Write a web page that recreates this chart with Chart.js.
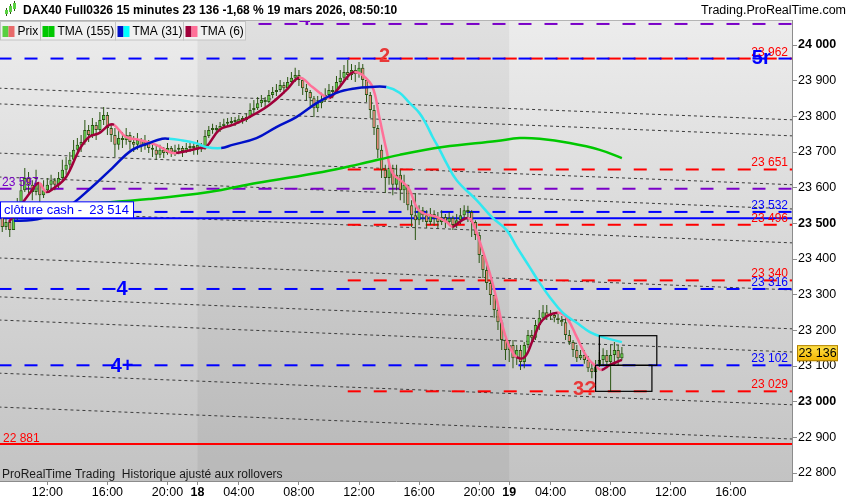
<!DOCTYPE html>
<html>
<head>
<meta charset="utf-8">
<script src="https://cdn.jsdelivr.net/npm/chart.js@4.4.1/dist/chart.umd.min.js"></script>
<style>
  html, body { margin: 0; padding: 0; background: #fff; }
  canvas { display: block; }
</style>
</head>
<body>
<canvas id="chart" width="850" height="500"></canvas>
<script>
// DAX40 15 min bars, index 0 = 17 mars 09:00 (sessions 01:15 - 22:00)
const opens = [23523,23490,23504,23481,23515,23551,23593,23627,23608,23588,23613,23579,23593,23608,23621,23608,23627,23650,23664,23678,
  23706,23720,23728,23762,23748,23776,23762,23790,23804,23767,23748,23720,23739,23734,23748,23728,23720,23734,23717,23728,
  23711,23706,23692,23706,23697,23711,23700,23706,23711,23703,23711,23717,23706,23720,23711,23745,23762,23767,23762,23773,
  23779,23781,23787,23784,23793,23790,23798,23818,23823,23837,23846,23840,23860,23868,23874,23888,23879,23896,23908,23916,
  23902,23879,23868,23851,23823,23837,23846,23860,23874,23868,23896,23908,23924,23916,23930,23919,23936,23902,23860,23818,
  23767,23706,23650,23627,23655,23608,23636,23593,23608,23551,23523,23509,23537,23523,23504,23526,23515,23504,23518,23504,
  23515,23495,23509,23523,23537,23532,23504,23467,23411,23369,23333,23299,23257,23223,23173,23145,23159,23122,23145,23111,
  23159,23187,23179,23215,23235,23251,23240,23243,23235,23229,23223,23187,23167,23145,23122,23131,23117,23094,23083,23100,
  23117,23131,23111,23131,23145,23122];
const highs = [23537,23523,23509,23532,23571,23621,23655,23644,23621,23650,23613,23621,23627,23636,23627,23644,23678,23686,23700,23734,
  23739,23748,23790,23776,23795,23784,23812,23826,23812,23776,23767,23762,23756,23767,23756,23745,23753,23739,23748,23734,
  23725,23720,23720,23714,23725,23717,23720,23722,23717,23725,23728,23725,23734,23725,23762,23773,23779,23776,23784,23793,
  23795,23798,23798,23804,23801,23809,23837,23846,23854,23860,23854,23874,23882,23891,23902,23896,23910,23924,23936,23930,
  23908,23891,23874,23857,23857,23866,23879,23891,23885,23913,23930,23944,23958,23947,23944,23952,23947,23908,23868,23832,
  23776,23720,23664,23672,23664,23664,23650,23636,23608,23565,23585,23551,23546,23537,23543,23537,23532,23537,23526,23532,
  23521,23526,23543,23551,23549,23537,23509,23476,23411,23383,23341,23299,23271,23229,23187,23173,23173,23159,23159,23167,
  23201,23201,23229,23257,23271,23271,23257,23249,23246,23240,23235,23201,23173,23159,23145,23145,23128,23111,23117,23139,
  23150,23145,23159,23167,23159,23153];
const lows = [23476,23481,23462,23487,23509,23551,23588,23579,23565,23579,23557,23571,23588,23593,23593,23599,23621,23636,23650,23672,
  23692,23700,23720,23728,23739,23734,23756,23776,23748,23728,23686,23706,23711,23720,23706,23700,23706,23700,23706,23697,
  23686,23678,23683,23683,23692,23686,23689,23694,23686,23697,23700,23692,23692,23700,23706,23739,23751,23751,23756,23767,
  23770,23773,23773,23779,23779,23784,23795,23807,23818,23826,23823,23837,23851,23857,23868,23863,23874,23888,23896,23885,
  23860,23846,23829,23798,23812,23823,23840,23851,23851,23863,23885,23896,23902,23902,23896,23908,23879,23840,23795,23748,
  23683,23627,23585,23608,23579,23593,23565,23557,23537,23490,23453,23495,23504,23487,23495,23493,23487,23495,23487,23495,
  23481,23487,23498,23509,23504,23462,23453,23389,23347,23313,23271,23235,23201,23145,23117,23111,23094,23103,23089,23094,
  23150,23165,23173,23201,23229,23229,23229,23223,23218,23212,23173,23159,23125,23111,23117,23106,23083,23066,23066,23097,
  23103,23094,23027,23103,23100,23117];
const closes = [23490,23504,23481,23515,23551,23593,23627,23608,23588,23613,23579,23593,23608,23621,23608,23627,23650,23664,23678,23706,
  23720,23728,23762,23748,23776,23762,23790,23804,23767,23748,23720,23739,23734,23748,23728,23720,23734,23717,23728,23711,
  23706,23692,23706,23697,23711,23700,23706,23711,23703,23711,23717,23711,23720,23711,23745,23762,23767,23762,23773,23779,
  23781,23787,23784,23793,23790,23798,23818,23823,23837,23846,23840,23860,23868,23874,23888,23879,23896,23908,23916,23902,
  23879,23868,23851,23823,23837,23846,23860,23874,23868,23896,23908,23924,23916,23930,23919,23936,23902,23860,23818,23767,
  23706,23650,23627,23655,23608,23636,23593,23608,23551,23523,23509,23537,23523,23504,23526,23515,23504,23518,23504,23515,
  23495,23509,23523,23537,23532,23504,23467,23411,23369,23333,23299,23257,23223,23173,23145,23159,23122,23145,23111,23159,
  23187,23179,23215,23235,23251,23240,23243,23235,23229,23223,23187,23167,23145,23122,23131,23117,23094,23083,23100,23117,
  23131,23111,23131,23145,23122,23136];

// moving averages, read at bar index
const tma6K = [1.8,7.9,9.8,11.7,13.8,17,20.5,23.1,25.8,28.5,29.8,33,36.5,41,44.5,46.3,52.5,54.3,57.8,61.3,65.8,71.1,75.7,79.1,82.6,85.3,
  87.1,89.8,92.4,93.8,95.9,98.6,100.4,102.3,103.9,106.6,108.5,110.3,111.9,115.6,118.3,119.9,121.8,123.9,125.3,127.9,129.8,131.7,
  133.3,135.1,137,139.1,141.3,143.9,147.9,150.3,153,155.7,158.3,159.6,161.8,165];
const tma6 = [23504,23593,23613,23588,23599,23630,23706,23742,23753,23776,23776,23742,23734,23720,23700,23697,23711,23714,23762,23776,
  23798,23832,23874,23908,23882,23860,23851,23882,23916,23924,23916,23882,23798,23706,23641,23616,23593,23546,23529,23518,23504,
  23490,23504,23515,23501,23425,23361,23285,23209,23153,23125,23125,23173,23229,23249,23235,23181,23125,23097,23089,23103,23117];
const tma31K = [3.1,7.9,10.6,17,23.9,29.3,34.6,39.1,42.6,44.5,47.1,51.6,54.3,58.3,61.3,67.7,73,78.3,83.7,89,94.3,97.8,102.3,105.8,
  108.5,111.1,113,114.6,116.5,118.3,121,126.3,130.6,134.3,137,140.4,142.6,145.8,149.3,153,156.5,159.9,165];
const tma31 = [23507,23509,23515,23543,23602,23655,23706,23725,23737,23737,23734,23725,23714,23711,23720,23739,23770,23798,23837,23866,
  23879,23882,23882,23866,23837,23809,23776,23742,23706,23669,23621,23565,23515,23481,23434,23378,23341,23293,23249,23221,23195,23181,23167];
const tma155K = [0,25.8,39.1,55.1,67.7,85.3,95.1,105.8,117.3,131.7,137.8,143.1,151.1,159.1,165];
const tma155 = [23540,23557,23568,23588,23613,23644,23666,23692,23714,23731,23739,23737,23725,23706,23683];

// levels
const blueLevels = [23962, 23532, 23316, 23102];
const redLevels = [23962, 23651, 23496, 23340, 23029];
const redFromK = 92;
const purpleLevels = [24059, 23597];
const cashLevel = 23514;
const floorLevel = 22881;
const channelStart = [23879, 23835, 23697, 23630, 23535, 23403, 23294, 23229, 23080, 22985];
const channelEnd = [23790, 23745, 23608, 23540, 23445, 23313, 23204, 23139, 22991, 22895];

// zones drawn as boxes
const boxFromK = [159, 158];
const boxToK = [174.3, 173];
const boxLow = [23102, 23029];
const boxHigh = [23185, 23102];

// hand-written marks
const markText = ['2', '4', '4+', '3?', '5r', '4'];
const markK = [101.8, 31.9, 31.9, 155.1, 202.1, 80.5];
const markPrice = [23972, 23316, 23102, 23037, 23965, 24075];
const markColor = ['#e83838', '#0000ff', '#0000ff', '#e83838', '#0000ff', '#7a00c8'];

// time axis
const tickK = [12, 28, 44, 52, 63, 79, 95, 111, 127, 135, 146, 162, 178, 194];
const tickText = ['12:00', '16:00', '20:00', '18', '04:00', '08:00', '12:00', '16:00', '20:00', '19', '04:00', '08:00', '12:00', '16:00'];
const dayStartK = [52, 135];
const yTicks = [22800, 22900, 23000, 23100, 23200, 23300, 23400, 23500, 23600, 23700, 23800, 23900, 24000];

const FONT = '"Liberation Sans", Arial, sans-serif';
const fmt = v => Math.round(v).toString().replace(/\B(?=(\d{3})+(?!\d))/g, ' ');

const BLUE = '#0000ff', RED = '#ff0000', PURPLE = '#7a00c8';

function hLine(price, fromK, toK, color, dash, width) {
  return {
    type: 'line', order: 5,
    data: [{ x: fromK, y: price }, { x: toK, y: price }],
    borderColor: color, borderWidth: width, borderDash: dash,
    pointRadius: 0, fill: false
  };
}

function maLine(ks, vals, rising, falling) {
  return {
    type: 'line', order: 1,
    data: ks.map((k, i) => ({ x: k, y: vals[i] })),
    borderColor: rising, borderWidth: 2.5, pointRadius: 0, tension: 0.4, fill: false,
    segment: { borderColor: c => c.p1.parsed.y >= c.p0.parsed.y ? rising : falling }
  };
}

const datasets = [];
channelStart.forEach((p, i) => datasets.push({
  type: 'line', order: 6,
  data: [{ x: -1, y: p }, { x: 211, y: channelEnd[i] }],
  borderColor: '#3c3c3c', borderWidth: 1, borderDash: [3, 3], pointRadius: 0
}));
purpleLevels.forEach(p => datasets.push(hLine(p, -1, 211, PURPLE, [13, 13], 2)));
blueLevels.forEach(p => datasets.push(hLine(p, -1, 211, BLUE, [13, 13], 2)));
redLevels.forEach(p => datasets.push(hLine(p, redFromK, 211, RED, [13, 13], 2)));
datasets.push(hLine(cashLevel, -1, 211, BLUE, [], 2));
datasets.push(hLine(floorLevel, -1, 211, RED, [], 2));

// wicks (ungrouped bars: width comes from maxBarThickness / percentages)
datasets.push({
  type: 'bar', order: 3, grouped: false,
  data: closes.map((c, i) => ({ x: i, y: [lows[i], highs[i]] })),
  backgroundColor: '#2a5512', maxBarThickness: 1, borderWidth: 0, inflateAmount: 0
});
datasets.push({
  type: 'bar', order: 2, grouped: false,
  data: closes.map((c, i) => ({ x: i, y: [opens[i], c] })),
  backgroundColor: closes.map((c, i) => c >= opens[i] ? '#58d040' : '#f0857a'),
  borderColor: '#2a5512', borderWidth: 1, borderSkipped: false,
  categoryPercentage: 1, barPercentage: 0.9, minBarLength: 2, inflateAmount: 0
});

datasets.push(maLine(tma155K, tma155, '#00c800', '#00c800'));
datasets.push(maLine(tma31K, tma31, '#0010c8', '#30e8f0'));
datasets.push(maLine(tma6K, tma6, '#a0003a', '#ff7098'));

const backdrop = {
  id: 'backdrop',
  beforeDraw(chart) {
    const { ctx, chartArea: a, scales: { x } } = chart;
    ctx.save();
    const g = ctx.createLinearGradient(0, a.top, 0, a.bottom);
    g.addColorStop(0, '#ececec');
    g.addColorStop(1, '#c3c3c3');
    ctx.fillStyle = g;
    ctx.fillRect(a.left, a.top, a.width, a.height);
    const x0 = x.getPixelForValue(dayStartK[0]);
    const x1 = x.getPixelForValue(dayStartK[1]);
    ctx.fillStyle = 'rgba(0,0,0,0.05)';
    ctx.fillRect(x0, a.top, x1 - x0, a.height);
    ctx.restore();
  }
};

const overlays = {
  id: 'overlays',
  afterDatasetsDraw(chart) {
    const { ctx, chartArea: a, scales: { x, y } } = chart;
    ctx.save();
    // zones
    ctx.strokeStyle = '#000';
    ctx.lineWidth = 1.2;
    boxFromK.forEach((k, i) => {
      const l = x.getPixelForValue(k), r = x.getPixelForValue(boxToK[i]);
      const t = y.getPixelForValue(boxHigh[i]), b = y.getPixelForValue(boxLow[i]);
      ctx.strokeRect(l, t, r - l, b - t);
    });
    // level values on the right
    ctx.font = '12px ' + FONT;
    ctx.textAlign = 'right';
    ctx.textBaseline = 'alphabetic';
    const right = a.right - 4;
    redLevels.forEach(p => { ctx.fillStyle = RED; ctx.fillText(fmt(p), right, y.getPixelForValue(p) - 3); });
    blueLevels.slice(1).forEach(p => { ctx.fillStyle = BLUE; ctx.fillText(fmt(p), right, y.getPixelForValue(p) - 3); });
    // level values on the left
    ctx.textAlign = 'left';
    ctx.fillStyle = PURPLE;
    ctx.fillText(fmt(purpleLevels[1]), a.left + 2, y.getPixelForValue(purpleLevels[1]) - 3);
    ctx.fillStyle = RED;
    ctx.fillText(fmt(floorLevel), a.left + 3, y.getPixelForValue(floorLevel) - 2);
    // cash close tag
    ctx.font = '13px ' + FONT;
    const cy = y.getPixelForValue(cashLevel);
    const tag = 'clôture cash -  ' + fmt(cashLevel);
    const tw = ctx.measureText(tag).width;
    ctx.fillStyle = '#fff';
    ctx.fillRect(a.left, cy - 16.5, tw + 8, 16);
    ctx.strokeStyle = BLUE;
    ctx.lineWidth = 1;
    ctx.strokeRect(a.left + 0.5, cy - 16.5, tw + 8, 16);
    ctx.fillStyle = BLUE;
    ctx.textBaseline = 'middle';
    ctx.fillText(tag, a.left + 4, cy - 8);
    // marks
    ctx.font = 'bold 20px ' + FONT;
    ctx.textAlign = 'center';
    markText.forEach((t, i) => {
      ctx.fillStyle = markColor[i];
      ctx.fillText(t, x.getPixelForValue(markK[i]), y.getPixelForValue(markPrice[i]) + 1);
    });
    ctx.restore();
  },
  afterDraw(chart) {
    const { ctx, chartArea: a, scales: { y } } = chart;
    ctx.save();
    // header
    ctx.fillStyle = '#fff';
    ctx.fillRect(0, 0, chart.width, a.top);
    ctx.strokeStyle = '#b4b4b4';
    ctx.beginPath(); ctx.moveTo(0, a.top + 0.5); ctx.lineTo(a.right, a.top + 0.5); ctx.stroke();
    // tiny candle icon
    [[6, 10, 14], [10, 6, 12], [14, 3, 9]].forEach(([cx, t, b]) => {
      ctx.fillStyle = '#2a5512'; ctx.fillRect(cx, t - 2, 1, b - t + 4);
      ctx.fillStyle = '#58d040'; ctx.fillRect(cx - 1, t, 3, b - t);
    });
    ctx.fillStyle = '#000';
    ctx.font = 'bold 12px ' + FONT;
    ctx.textBaseline = 'middle';
    ctx.textAlign = 'left';
    ctx.fillText('DAX40 Full0326 15 minutes 23 136 -1,68 % 19 mars 2026, 08:50:10', 23, 11);
    ctx.font = '12.5px ' + FONT;
    ctx.textAlign = 'right';
    ctx.fillText('Trading.ProRealTime.com', chart.width - 4, 11);
    // legend row
    const items = [
      ['Prix', ['#58d040', '#e86a6a'], 40],
      ['TMA (155)', ['#00c800', '#00c800'], 75],
      ['TMA (31)', ['#0010c8', '#00ffff'], 68],
      ['TMA (6)', ['#a0003a', '#ff7098'], 62]
    ];
    ctx.font = '12px ' + FONT;
    ctx.textAlign = 'left';
    let lx = 0.5;
    items.forEach(([label, cols, w]) => {
      ctx.fillStyle = '#f0f0f0';
      ctx.fillRect(lx, 21.5, w, 18.5);
      ctx.strokeStyle = '#c4c4c4';
      ctx.strokeRect(lx, 21.5, w, 18.5);
      ctx.fillStyle = cols[0]; ctx.fillRect(lx + 2, 26, 6, 11);
      ctx.fillStyle = cols[1]; ctx.fillRect(lx + 8, 26, 6, 11);
      ctx.fillStyle = '#000';
      ctx.fillText(label, lx + 17, 31.5);
      lx += w;
    });
    // last price tag
    const py = y.getPixelForValue(closes[closes.length - 1]);
    const g = ctx.createLinearGradient(0, py - 8, 0, py + 8);
    g.addColorStop(0, '#ffe24a');
    g.addColorStop(1, '#f2b400');
    ctx.fillStyle = g;
    ctx.fillRect(a.right + 5, py - 8, 41, 16);
    ctx.strokeStyle = '#b08000';
    ctx.strokeRect(a.right + 5.5, py - 7.5, 40, 15);
    ctx.fillStyle = '#000';
    ctx.textAlign = 'center';
    ctx.font = '12.5px ' + FONT;
    ctx.fillText(fmt(closes[closes.length - 1]), a.right + 25.5, py + 0.5);
    // footer note
    ctx.font = '12px ' + FONT;
    ctx.textAlign = 'left';
    ctx.fillStyle = '#1a1a1a';
    ctx.fillText('ProRealTime Trading  Historique ajusté aux rollovers', a.left + 2, a.bottom - 6);
    ctx.restore();
  }
};

new Chart(document.getElementById('chart'), {
  type: 'bar',
  data: { datasets },
  plugins: [backdrop, overlays],
  options: {
    responsive: false,
    devicePixelRatio: 1,
    animation: false,
    events: [],
    layout: { padding: { top: 20, left: 0, right: 0, bottom: 0 } },
    plugins: { legend: { display: false }, tooltip: { enabled: false } },
    scales: {
      x: {
        type: 'linear', min: -0.6, max: 210.3, offset: false,
        afterBuildTicks: s => { s.ticks = tickK.map(v => ({ value: v })); },
        afterFit: s => { s.height = 19; },
        grid: { drawOnChartArea: false, offset: false, tickLength: 4, color: '#8c8c8c' },
        border: { color: '#8c8c8c' },
        ticks: {
          autoSkip: false, maxRotation: 0, padding: 0, color: '#000',
          callback: (v, i) => tickText[i],
          font: c => ({ family: FONT, size: 12.5, weight: /^\d\d$/.test(tickText[c.index]) ? 'bold' : 'normal' })
        }
      },
      y: {
        position: 'right', min: 22777.6, max: 24070.1,
        afterBuildTicks: s => { s.ticks = yTicks.map(v => ({ value: v })); },
        afterFit: s => { s.width = 58; },
        grid: { drawOnChartArea: false, tickLength: 5, color: '#8c8c8c' },
        border: { color: '#8c8c8c' },
        ticks: {
          padding: 1, color: '#000',
          callback: v => fmt(v),
          font: c => ({ family: FONT, size: 12.5, weight: c.tick && c.tick.value % 500 === 0 ? 'bold' : 'normal' })
        }
      }
    }
  }
});
</script>
</body>
</html>
